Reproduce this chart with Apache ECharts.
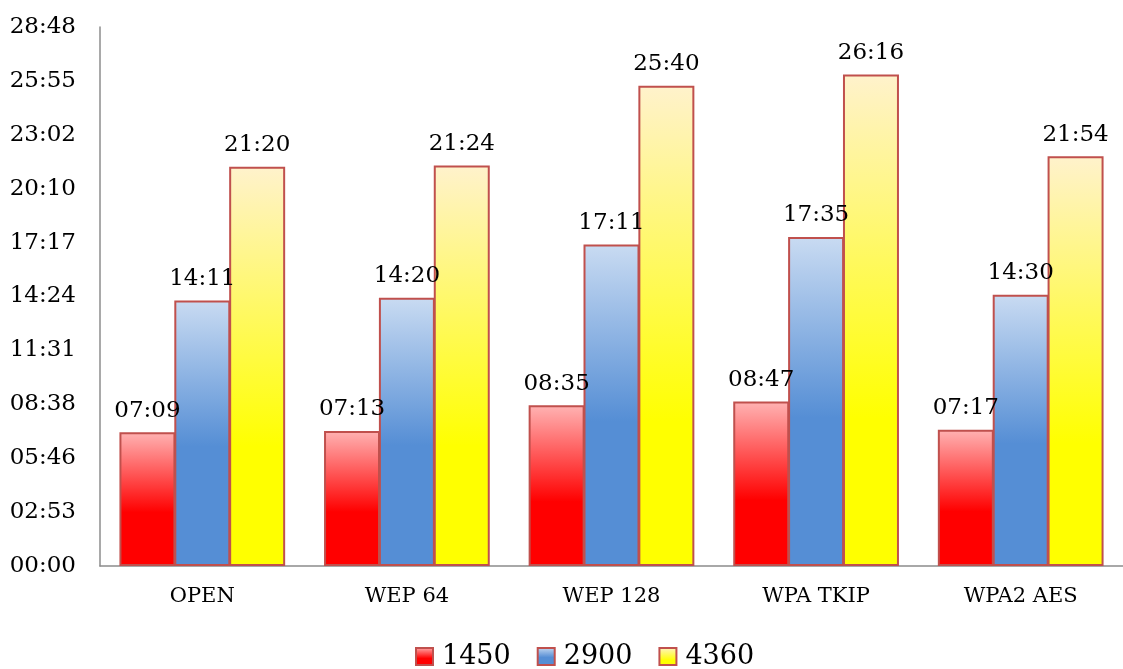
<!DOCTYPE html>
<html>
<head>
<meta charset="utf-8">
<script src="https://cdn.jsdelivr.net/npm/echarts@6/dist/echarts.min.js"></script>
<style>
  html, body { margin: 0; padding: 0; background: #fff; }
  #chart { width: 1123px; height: 669px; }
</style>
</head>
<body>
<div id="chart"></div>
<script>
// Test configurations along the x axis
const categories = ['OPEN', 'WEP 64', 'WEP 128', 'WPA TKIP', 'WPA2 AES'];
// Series names (shown in the legend)
const seriesNames = ['1450', '2900', '4360'];
// Durations in mm:ss for each series, per category
const times1450 = ['07:09', '07:13', '08:35', '08:47', '07:17'];
const times2900 = ['14:11', '14:20', '17:11', '17:35', '14:30'];
const times4360 = ['21:20', '21:24', '25:40', '26:16', '21:54'];
// Value axis: 0 to 28:48 in ten equal steps
const axisMaxSeconds = 1728;
const axisSteps = 10;

function toSeconds(t) {
  const [m, s] = t.split(':').map(Number);
  return m * 60 + s;
}
function toClock(sec) {
  const r = Math.round(sec);
  const m = Math.floor(r / 60), s = r % 60;
  return String(m).padStart(2, '0') + ':' + String(s).padStart(2, '0');
}

const FONT = 'DejaVu Serif';
const BORDER = '#c0504d';

const fills = [
  { type: 'linear', x: 0, y: 0, x2: 0, y2: 1, colorStops: [
    { offset: 0, color: '#ffb3b3' }, { offset: 0.6, color: '#ff0000' }, { offset: 1, color: '#ff0000' } ] },
  { type: 'linear', x: 0, y: 0, x2: 0, y2: 1, colorStops: [
    { offset: 0, color: '#c9dbf2' }, { offset: 0.55, color: '#558ed5' }, { offset: 1, color: '#558ed5' } ] },
  { type: 'linear', x: 0, y: 0, x2: 0, y2: 1, colorStops: [
    { offset: 0, color: '#fff2cc' }, { offset: 0.7, color: '#ffff00' }, { offset: 1, color: '#ffff00' } ] }
];

const seriesTimes = [times1450, times2900, times4360];

const chart = echarts.init(document.getElementById('chart'), null, { renderer: 'canvas' });
chart.setOption({
  animation: false,
  backgroundColor: '#ffffff',
  textStyle: { fontFamily: FONT, color: '#000' },
  grid: { left: 100, right: -12, top: 27, bottom: 103, containLabel: false },
  legend: {
    data: seriesNames,
    top: 638,
    left: 410,
    itemWidth: 17,
    itemHeight: 17,
    itemGap: 26,
    icon: 'rect',
    textStyle: { fontFamily: FONT, fontSize: 27, color: '#000', padding: [0, 0, 0, 4] }
  },
  xAxis: {
    type: 'category',
    data: categories,
    axisLine: { lineStyle: { color: '#8c8c8c', width: 1.5 } },
    axisTick: { show: false },
    axisLabel: { fontFamily: FONT, fontSize: 21, color: '#000', margin: 20 }
  },
  yAxis: {
    type: 'value',
    min: 0,
    max: axisMaxSeconds,
    interval: axisMaxSeconds / axisSteps,
    splitLine: { show: false },
    axisTick: { show: false },
    axisLine: { show: true, lineStyle: { color: '#8c8c8c', width: 1.5 } },
    axisLabel: { fontFamily: FONT, fontSize: 23, color: '#000', margin: 24, formatter: v => toClock(v) }
  },
  series: seriesNames.map((name, i) => ({
    name,
    type: 'bar',
    barGap: '-2%',
    barCategoryGap: '19%',
    data: seriesTimes[i].map(toSeconds),
    itemStyle: { color: fills[i], borderColor: BORDER, borderWidth: 2 },
    label: {
      show: true,
      position: 'top',
      distance: 10,
      fontFamily: FONT,
      fontSize: 23,
      color: '#000',
      formatter: p => toClock(p.value)
    }
  }))
});
</script>
</body>
</html>
